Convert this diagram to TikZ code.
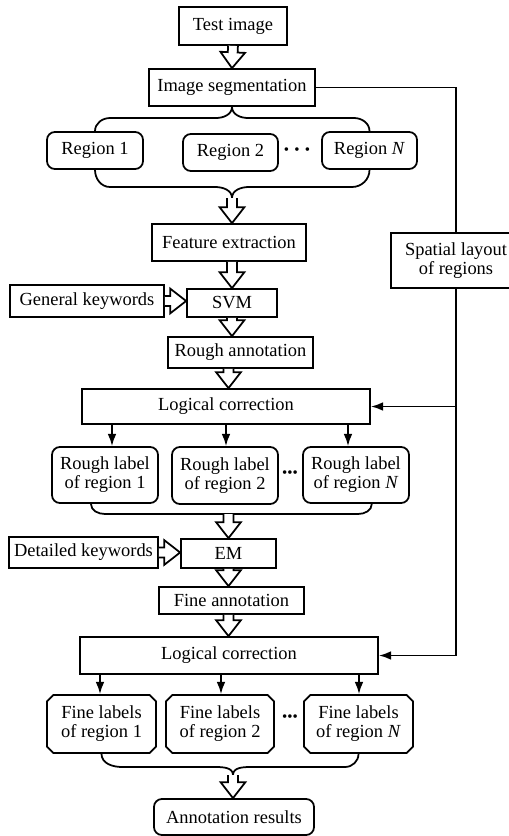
\documentclass[tikz,border=0pt]{standalone}
\usepackage{fontspec}
\setmainfont{Liberation Serif}
\usepackage{tikz}
\usetikzlibrary{arrows.meta,calc,shapes.misc}
\tikzset{
  blk/.style = {draw=black, line width=1pt, align=center, inner sep=0pt,
    fill=white, font=\fontsize{10.5}{10.8}\selectfont},% plain box
  blk_r/.style = {blk, rounded corners=4.5pt},% rounded box
  blk_c/.style = {blk, chamfered rectangle, chamfered rectangle xsep=1.8pt,
    chamfered rectangle ysep=1.8pt},% chamfered box
  size/.style 2 args = {minimum width=#1*0.02cm, minimum height=#2*0.02cm},
  dots/.style = {inner sep=0pt, font=\fontsize{8.5}{8.5}\selectfont},
  wire/.style = {line width=1pt},
  arr/.style = {wire, -{Latex[length=7pt,width=5pt]}},
  hollow/.style = {line width=1pt, fill=white, draw=black, line join=miter}
}
\newcommand{\hollowarrow}[2]{%
  \coordinate (ha) at (#1);
  \coordinate (hb) at (#2);
  \coordinate (hn) at ($(hb)!9pt!(ha)$);
  \filldraw[hollow] ($(ha)!2.8pt!90:(hb)$) -- ($(hn)!2.8pt!90:(hb)$)
    -- ($(hn)!7pt!90:(hb)$) -- (hb) -- ($(hn)!7pt!-90:(hb)$)
    -- ($(hn)!2.8pt!-90:(hb)$) -- ($(ha)!2.8pt!-90:(hb)$);}

\begin{document}
\begin{tikzpicture}[x=0.02cm, y=-0.02cm]
  \useasboundingbox (0,0) rectangle (509,836);

  \node[blk, size={108}{38}] (test) at (233,26) {Test image};
  \node[blk, size={166}{37}] (seg) at (232,87.5) {Image segmentation};
  \node[blk_r, size={96}{37}] (r1) at (95,150.5) {Region 1};
  \node[blk_r, size={95}{37}] (r2) at (230.5,152.5) {Region 2};
  \node[blk_r, size={95}{37}] (rN) at (369.5,150.5) {Region \textit{N}};
  \node[dots] (d1) at (297,151) {•\kern3pt•\kern3pt•};
  \node[blk, size={154}{37}] (feat) at (229,242.5) {Feature extraction};
  \node[blk, size={90}{28}] (svm) at (232,303) {SVM};
  \node[blk, size={154}{32}] (gkw) at (87,301) {General keywords};
  \node[blk, size={145}{31}] (rough) at (240.5,352.5) {Rough annotation};
  \node[blk, size={130}{55}] (spatial) at (456,260.5) {Spatial layout\\of regions};
  \node[blk, size={288}{35}] (lc1) at (226,406.5) {Logical correction};
  \node[blk_r, size={106}{56}] (rl1) at (105,475) {Rough label\\of region 1};
  \node[blk_r, size={106}{57}] (rl2) at (225,475.5) {Rough label\\of region 2};
  \node[blk_r, size={106}{56}] (rlN) at (356,475) {Rough label\\of region \textit{N}};
  \node[dots] (d2) at (290,474) {•••};
  \node[blk, size={149}{31}] (dkw) at (83.5,552.5) {Detailed keywords};
  \node[blk, size={95}{29}] (em) at (228.5,553.5) {EM};
  \node[blk, size={145}{27}] (fine) at (231.5,600.5) {Fine annotation};
  \node[blk, size={298}{37}] (lc2) at (229,655.5) {Logical correction};
  \node[blk_c, size={109}{58}] (fl1) at (101.5,724) {Fine labels\\of region 1};
  \node[blk_c, size={108}{58}] (fl2) at (220,724) {Fine labels\\of region 2};
  \node[blk_c, size={109}{58}] (flN) at (358.5,724) {Fine labels\\of region \textit{N}};
  \node[dots] (d3) at (290,718) {•••};
  \node[blk_r, size={160}{36}] (res) at (234,817) {Annotation results};

  \coordinate (b1) at (232,198);
  \coordinate (b2) at (em.north |- 0,514);
  \coordinate (b3) at (233,775);

  \draw[wire] (r1.north) to[out=90,in=180] (110,118) -- (216,118) to[out=0,in=-90] (seg.south);
  \draw[wire] (rN.north) to[out=90,in=0] (354,118) -- (248,118) to[out=180,in=-90] (seg.south);
  \draw[wire] (r1.south) to[out=-90,in=180] (110,187) -- (215,187) to[out=0,in=90] (b1);
  \draw[wire] (rN.south) to[out=-90,in=0] (352,187) -- (249,187) to[out=180,in=90] (b1);
  \draw[wire] ([xshift=-8pt]rl1.south) to[out=-90,in=180] (105,514) -- (358,514)
    to[out=0,in=-90] ([xshift=9pt]rlN.south);
  \draw[wire] (fl1.south) to[out=-90,in=180] (122,767) -- (215,767) to[out=0,in=90] (b3);
  \draw[wire] (flN.south) to[out=-90,in=0] (345,767) -- (251,767) to[out=180,in=90] (b3);

  \hollowarrow{test.south}{seg.north}
  \hollowarrow{b1}{b1 |- feat.north}
  \hollowarrow{svm.north |- feat.south}{svm.north}
  \hollowarrow{gkw.east}{gkw.east -| svm.west}
  \hollowarrow{svm.south}{svm.south |- rough.north}
  \hollowarrow{em.north |- rough.south}{em.north |- lc1.north}
  \hollowarrow{b2}{em.north}
  \hollowarrow{dkw.east}{dkw.east -| em.west}
  \hollowarrow{em.south}{em.south |- fine.north}
  \hollowarrow{em.south |- fine.south}{em.south |- lc2.north}
  \hollowarrow{b3}{b3 |- res.north}

  \draw[wire] (seg.east) -| (spatial.north);
  \draw[wire] (spatial.south) -- (spatial.south |- lc1.east);
  \draw[arr] (spatial.south |- lc1.east) -- (lc1.east);
  \draw[arr] (spatial.south) |- (lc2.east);

  \foreach \n/\xx in {rl1/112, rl2/226, rlN/348}
    \draw[arr] (\xx,0 |- lc1.south) -- (\xx,0 |- \n.north);
  \foreach \n/\xx in {fl1/100, fl2/221, flN/359}
    \draw[arr] (\xx,0 |- lc2.south) -- (\xx,0 |- \n.north);
\end{tikzpicture}
\end{document}
